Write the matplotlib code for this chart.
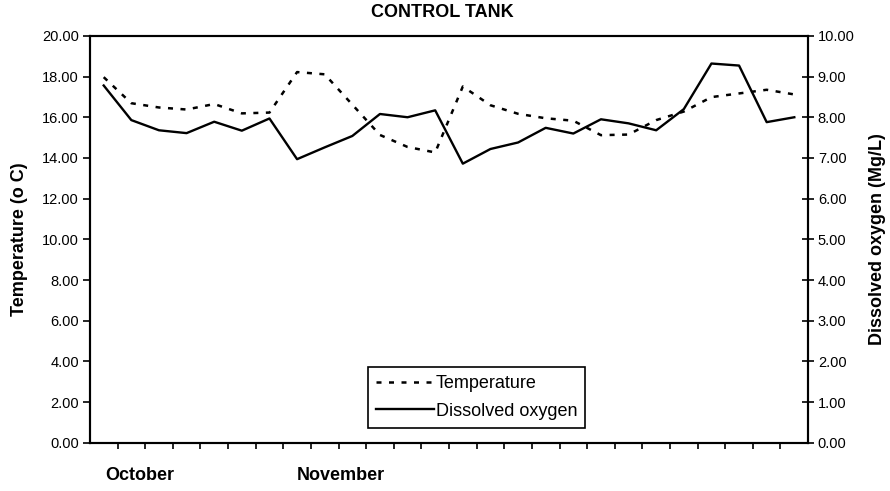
import matplotlib
matplotlib.use("Agg")
import matplotlib.pyplot as plt
import numpy as np

plt.rcParams['font.family'] = ['Liberation Sans', 'DejaVu Sans']

# 26 sampling days (category axis), months labelled below
temperature = [17.97, 16.69, 16.48, 16.38, 16.65, 16.19, 16.23, 18.22, 18.11, 16.62,
               15.13, 14.54, 14.27, 17.51, 16.59, 16.17, 15.95, 15.83, 15.12, 15.15,
               15.86, 16.28, 16.99, 17.17, 17.35, 17.12]
dissolved_oxygen = [8.78, 7.93, 7.68, 7.61, 7.89, 7.67, 7.97, 6.97, 7.26, 7.54,
                    8.08, 8.00, 8.17, 6.86, 7.22, 7.38, 7.74, 7.60, 7.95, 7.85,
                    7.68, 8.20, 9.32, 9.27, 7.88, 8.00]
month_labels = ['October', 'November']
month_pos = [1.3, 8.6]

x = np.arange(len(temperature))

fig = plt.figure(figsize=(8.9, 4.91), dpi=100)
ax = fig.add_axes([0.101, 0.098, 0.807, 0.829])
ax2 = ax.twinx()

l1, = ax.plot(x, temperature, color='black', lw=1.8, linestyle=(0, (2, 3)), label='Temperature')
l2, = ax2.plot(x, dissolved_oxygen, color='black', lw=1.7, label='Dissolved oxygen')

ax.set_xlim(-0.5, len(x) - 0.5)
ax.set_ylim(0, 20)
ax2.set_ylim(0, 10)
ax.set_yticks(np.arange(0, 21, 2))
ax.set_yticklabels(['%.2f' % v for v in np.arange(0, 21, 2)])
ax2.set_yticks(np.arange(0, 11, 1))
ax2.set_yticklabels(['%.2f' % v for v in np.arange(0, 11, 1)])

ax.set_xticks(np.arange(0.5, len(x) - 0.5, 1))
ax.set_xticklabels([])
ax.tick_params(axis='x', direction='out', length=4, width=1.2)
ax.tick_params(axis='y', direction='out', length=5, width=1.2, labelsize=10.5, pad=3)
ax2.tick_params(axis='y', direction='inout', length=8, width=1.2, labelsize=10.5, pad=3)

for a in (ax, ax2):
    for s in a.spines.values():
        s.set_linewidth(1.5)

for lab, p in zip(month_labels, month_pos):
    ax.text(p, -0.079, lab, transform=ax.get_xaxis_transform(), ha='center', va='center',
            fontsize=13, fontweight='bold')

ax.set_ylabel('Temperature (o C)', fontsize=13, fontweight='bold')
ax.yaxis.set_label_coords(-0.086, 0.5)
ax2.set_ylabel('Dissolved oxygen (Mg/L)', fontsize=13, fontweight='bold')
ax2.yaxis.set_label_coords(1.085, 0.5)
fig.text(0.497, 0.974, 'CONTROL TANK', ha='center', va='center', fontsize=13, fontweight='bold')

leg = ax.legend([l1, l2], ['Temperature', 'Dissolved oxygen'], loc='lower left',
                bbox_to_anchor=(0.387, 0.037), borderaxespad=0, fontsize=13,
                fancybox=False, framealpha=1, edgecolor='black', handlelength=3.2,
                handletextpad=0.1, borderpad=0.45, labelspacing=0.6)
leg.get_frame().set_linewidth(1.2)

plt.savefig('out.png', dpi=100)
plt.close()
